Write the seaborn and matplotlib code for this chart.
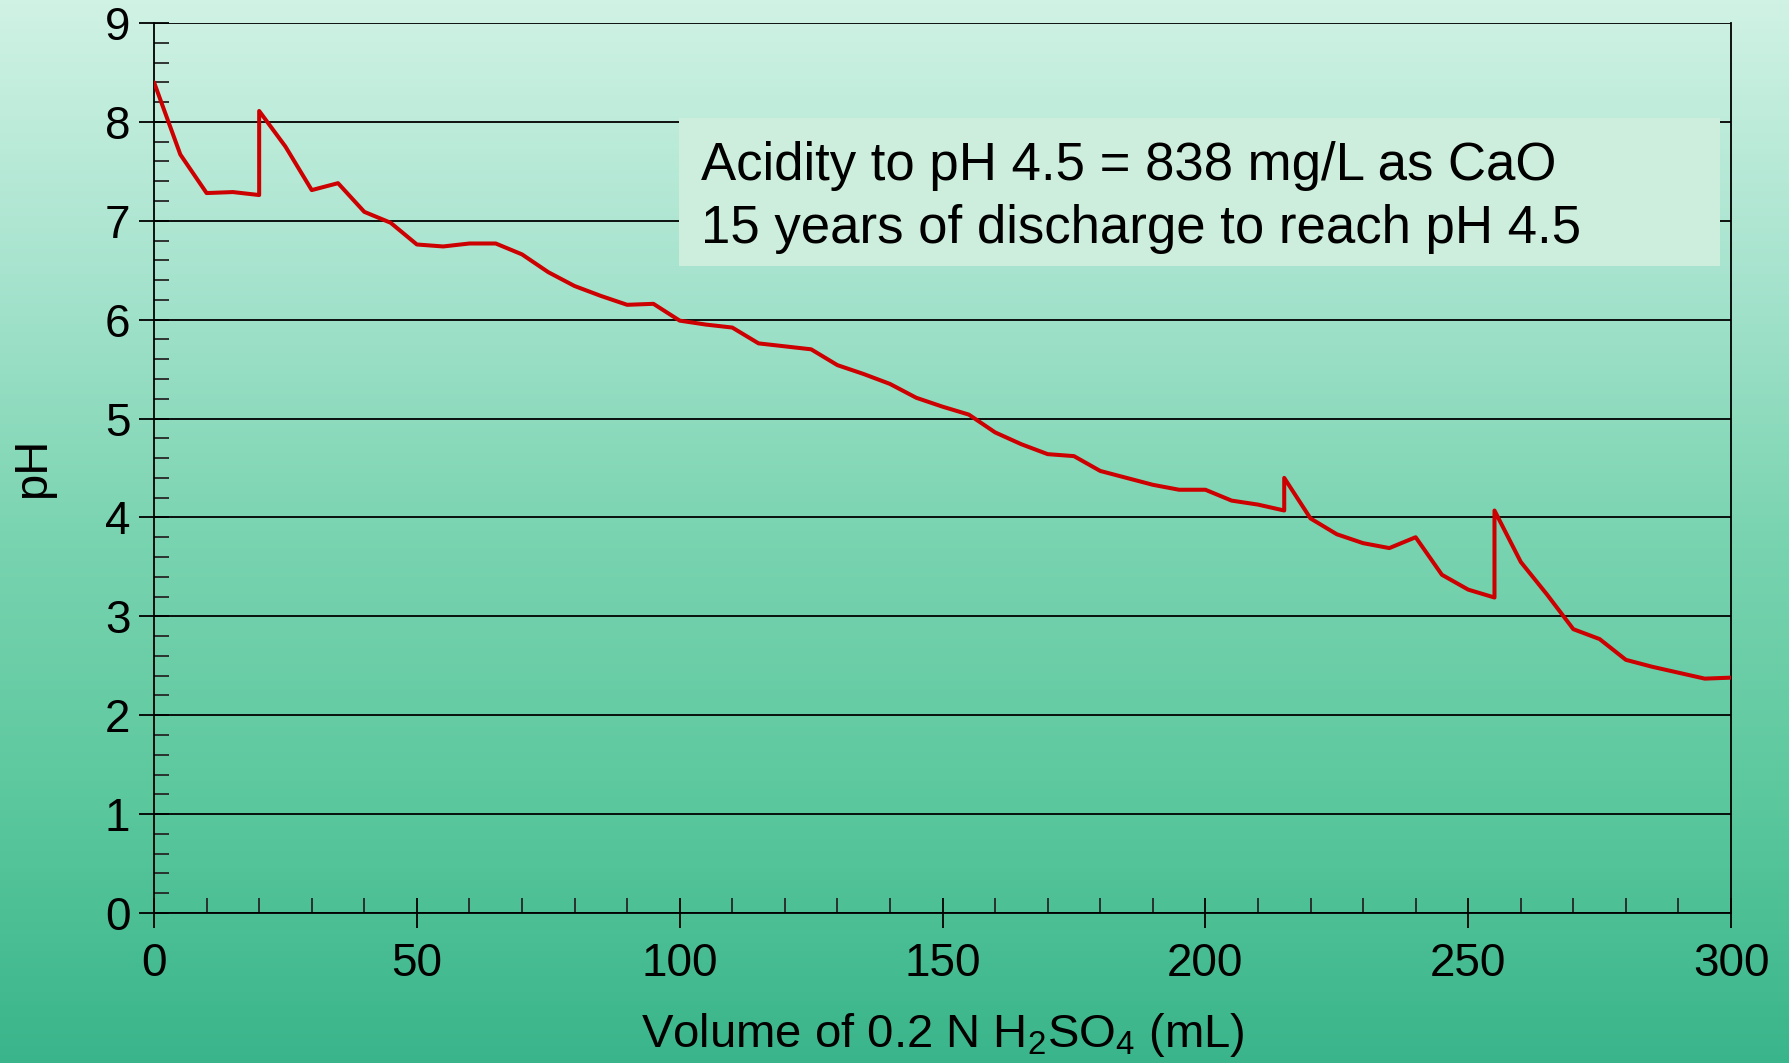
import numpy as np
import pandas as pd
import matplotlib.pyplot as plt
import seaborn as sns
from matplotlib.colors import LinearSegmentedColormap
from matplotlib.patches import Rectangle
from matplotlib.ticker import MultipleLocator

# --- DATA ---
volume_ml = [0, 5, 10, 15, 20, 20, 25, 30, 35, 40, 45, 50, 55, 60, 65, 70, 75, 80, 85, 90,
             95, 100, 105, 110, 115, 120, 125, 130, 135, 140, 145, 150, 155, 160, 165, 170,
             175, 180, 185, 190, 195, 200, 205, 210, 215, 215, 220, 225, 230, 235, 240, 245,
             250, 255, 255, 260, 265, 270, 275, 280, 285, 290, 295, 300]
ph_values = [8.40, 7.67, 7.28, 7.29, 7.26, 8.11, 7.75, 7.31, 7.38, 7.09, 6.98, 6.76, 6.74, 6.77,
             6.77, 6.66, 6.48, 6.34, 6.24, 6.15, 6.16, 5.99, 5.95, 5.92, 5.76, 5.73, 5.70, 5.54,
             5.45, 5.35, 5.21, 5.12, 5.04, 4.86, 4.74, 4.64, 4.62, 4.47, 4.40, 4.33, 4.28, 4.28,
             4.17, 4.13, 4.07, 4.40, 3.99, 3.83, 3.74, 3.69, 3.80, 3.42, 3.27, 3.19, 4.07, 3.55,
             3.22, 2.87, 2.77, 2.56, 2.49, 2.43, 2.37, 2.38]
annotation_lines = ["Acidity to pH 4.5 = 838 mg/L as CaO",
                    "15 years of discharge to reach pH 4.5"]

df = pd.DataFrame({"volume": volume_ml, "ph": ph_values})

sns.set_style("ticks")
plt.rcParams["font.family"] = ["Liberation Sans", "DejaVu Sans"]
plt.rcParams["mathtext.fontset"] = "custom"
plt.rcParams["mathtext.rm"] = "Liberation Sans"
plt.rcParams["mathtext.it"] = "Liberation Sans:italic"
plt.rcParams["text.color"] = "black"
plt.rcParams["axes.labelcolor"] = "black"

fig = plt.figure(figsize=(17.89, 10.63), dpi=100)

# background gradient
bg = fig.add_axes([0, 0, 1, 1], zorder=-10)
cmap = LinearSegmentedColormap.from_list(
    "bg", ["#d0f2e4", "#a8e4cf", "#7ad4b1", "#5cc89e", "#3ab58b"])
bg.imshow(np.linspace(0, 1, 256).reshape(-1, 1), aspect="auto", cmap=cmap,
          extent=[0, 1, 0, 1])
bg.axis("off")

ax = fig.add_axes([0.0861, 0.1411, 0.8815, 0.8373])
ax.patch.set_alpha(0)

sns.lineplot(data=df, x="volume", y="ph", ax=ax, estimator=None, sort=False,
             color="#cc0000", linewidth=2.9, zorder=5)

ax.set_xlim(0, 300)
ax.set_ylim(0, 9)
ax.xaxis.set_major_locator(MultipleLocator(50))
ax.xaxis.set_minor_locator(MultipleLocator(10))
ax.yaxis.set_major_locator(MultipleLocator(1))
ax.yaxis.set_minor_locator(MultipleLocator(0.2))
ax.grid(axis="y", which="major", color="black", linewidth=1.3)
ax.set_axisbelow(True)

ax.tick_params(axis="both", which="major", direction="inout", length=22, width=1.3,
               labelsize=33, colors="black", labelcolor="black", pad=10)
ax.tick_params(axis="both", which="minor", direction="in", length=11, width=1.3)
ax.tick_params(axis="y", which="major", pad=6)

for side in ["left", "bottom", "right"]:
    ax.spines[side].set_color("black")
    ax.spines[side].set_linewidth(1.3)
ax.spines["top"].set_visible(False)

ax.set_xlabel(r"Volume of 0.2 N H$_\mathregular{2}$SO$_\mathregular{4}$ (mL)", fontsize=34,
              labelpad=18)
ax.set_ylabel("pH", fontsize=34, labelpad=36)

# annotation box
box = Rectangle((0.3795, 0.7498), 0.5819, 0.1392, transform=fig.transFigure,
                facecolor="#cdeedd", edgecolor="none", zorder=3, clip_on=False)
ax.add_patch(box)
ax.text(0.3916, 0.8307, annotation_lines[0], transform=fig.transFigure, fontsize=38,
        va="baseline", ha="left", zorder=4)
ax.text(0.3916, 0.7714, annotation_lines[1], transform=fig.transFigure, fontsize=38,
        va="baseline", ha="left", zorder=4)

plt.savefig("out.png", dpi=100)
